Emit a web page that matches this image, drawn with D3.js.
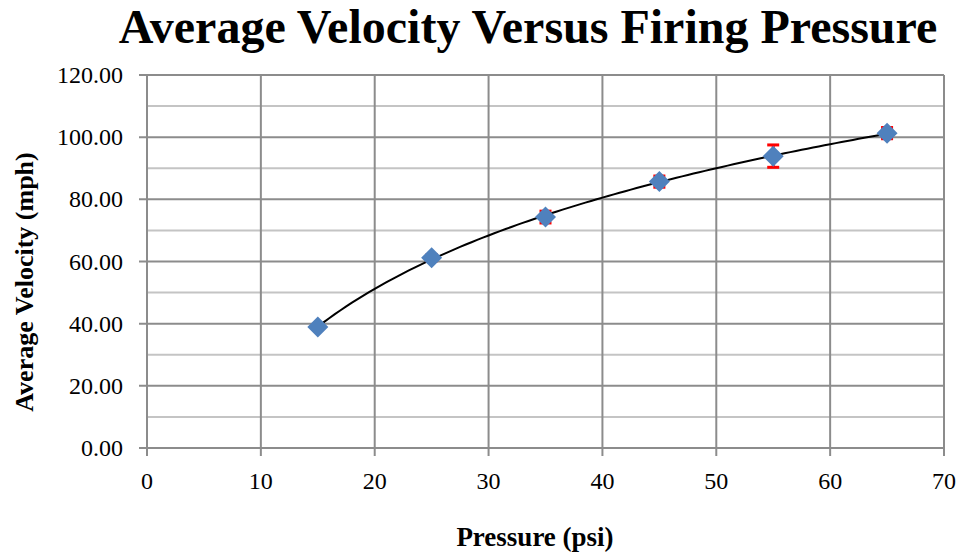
<!DOCTYPE html>
<html><head><meta charset="utf-8">
<script src="https://cdn.jsdelivr.net/npm/d3@7"></script>
<style>body{margin:0;background:#fff}svg{display:block}</style>
</head><body>
<svg id="c" width="963" height="556"></svg>
<script>
const pressure = [15, 25, 35, 45, 55, 65];
const velocity = [38.9, 61.2, 74.3, 85.7, 93.9, 101.3];
const errorBar = [0.8, 1.0, 1.9, 1.8, 3.6, 1.8];
const xTicks = [0, 10, 20, 30, 40, 50, 60, 70];
const yTicks = [0, 20, 40, 60, 80, 100, 120];
const yMinor = [10, 30, 50, 70, 90, 110];
const title = "Average Velocity Versus Firing Pressure";
const xTitle = "Pressure (psi)";
const yTitle = "Average Velocity (mph)";

const svg = d3.select("#c");
const L = 147, R = 944, T = 75, B = 448;
const x = d3.scaleLinear().domain([0, 70]).range([L, R]);
const y = d3.scaleLinear().domain([0, 120]).range([B, T]);
const serif = "'Liberation Serif','Times New Roman',serif";

// minor horizontal gridlines
svg.append("g").selectAll("line").data(yMinor).join("line")
  .attr("x1", L).attr("x2", R).attr("y1", d => y(d)).attr("y2", d => y(d))
  .attr("stroke", "#c4c4c4").attr("stroke-width", 2);
// major horizontal gridlines
svg.append("g").selectAll("line").data(yTicks).join("line")
  .attr("x1", L - 8).attr("x2", R).attr("y1", d => y(d)).attr("y2", d => y(d))
  .attr("stroke", "#8c8c8c").attr("stroke-width", 2);
// vertical gridlines
svg.append("g").selectAll("line").data(xTicks).join("line")
  .attr("x1", d => x(d)).attr("x2", d => x(d)).attr("y1", T).attr("y2", B + 8)
  .attr("stroke", "#8c8c8c").attr("stroke-width", 2);

// tick labels
svg.append("g").selectAll("text").data(yTicks).join("text")
  .attr("x", 123).attr("y", d => y(d) + 8)
  .attr("text-anchor", "end").attr("font-family", serif).attr("font-size", 24)
  .text(d => d.toFixed(2));
svg.append("g").selectAll("text").data(xTicks).join("text")
  .attr("x", d => x(d)).attr("y", 489)
  .attr("text-anchor", "middle").attr("font-family", serif).attr("font-size", 24)
  .text(d => d);

// logarithmic trendline (least squares fit y = a ln x + b)
const lx = pressure.map(Math.log);
const mx = d3.mean(lx), my = d3.mean(velocity);
const a = d3.sum(lx.map((v, i) => (v - mx) * (velocity[i] - my))) / d3.sum(lx.map(v => (v - mx) ** 2));
const b = my - a * mx;
const trend = d3.range(pressure[0], pressure[pressure.length - 1] + 0.001, 0.5);
svg.append("path")
  .attr("d", d3.line().x(d => x(d)).y(d => y(a * Math.log(d) + b))(trend))
  .attr("fill", "none").attr("stroke", "#000").attr("stroke-width", 2);

// error bars
const eb = svg.append("g").attr("stroke", "#ff0000").attr("stroke-width", 3);
pressure.forEach((p, i) => {
  const e = errorBar[i], v = velocity[i];
  eb.append("line").attr("x1", x(p)).attr("x2", x(p)).attr("y1", y(v - e)).attr("y2", y(v + e));
  [v - e, v + e].forEach(yy => eb.append("line")
    .attr("x1", x(p) - 6).attr("x2", x(p) + 6).attr("y1", y(yy)).attr("y2", y(yy)));
});

// markers
svg.append("g").selectAll("path").data(pressure).join("path")
  .attr("transform", (d, i) => `translate(${x(d)},${y(velocity[i])})`)
  .attr("d", "M0,-10.5L10.5,0L0,10.5L-10.5,0Z")
  .attr("fill", "#4f81bd");

// titles
svg.append("text").attr("x", 528).attr("y", 43).attr("text-anchor", "middle")
  .attr("font-family", serif).attr("font-weight", "bold").attr("font-size", 48).text(title);
svg.append("text").attr("x", 535).attr("y", 546).attr("text-anchor", "middle")
  .attr("font-family", serif).attr("font-weight", "bold").attr("font-size", 27).text(xTitle);
svg.append("text").attr("transform", "translate(33,282) rotate(-90)").attr("text-anchor", "middle")
  .attr("font-family", serif).attr("font-weight", "bold").attr("font-size", 26).text(yTitle);
</script>
</body></html>
